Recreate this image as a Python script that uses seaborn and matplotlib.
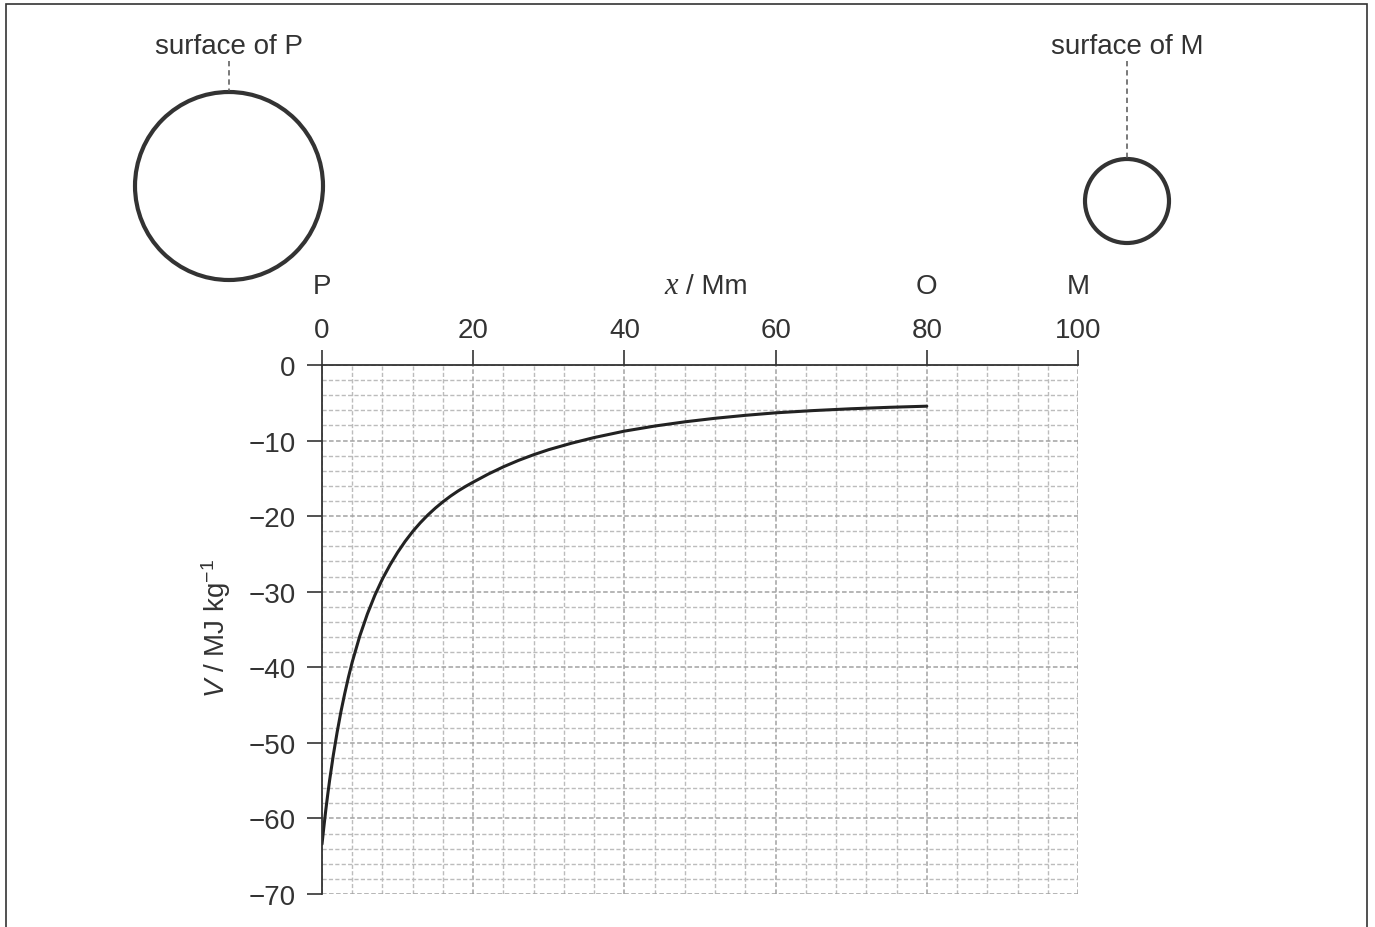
import matplotlib
matplotlib.use("Agg")
import matplotlib.pyplot as plt
import matplotlib.transforms as mtransforms
from matplotlib.patches import Circle
from matplotlib.ticker import MultipleLocator
import pandas as pd
import seaborn as sns

# Gravitational potential V along the line from the surface of P towards M
distance_mm = [0, 0.25, 0.5, 0.75, 1, 1.5, 2, 2.5, 3, 3.5, 4, 5, 6, 7, 8, 9,
               10, 11, 12, 13, 14, 15, 16, 17, 18, 19, 20, 22, 24, 26, 28, 30,
               33, 36, 40, 44, 48, 52, 56, 60, 65, 70, 75, 80]
potential = [-63.4, -61.1, -58.9, -56.9, -55.0, -51.6, -48.6, -45.9, -43.5,
             -41.3, -39.3, -35.85, -32.95, -30.45, -28.3, -26.45, -24.8,
             -23.33, -22.03, -20.88, -19.85, -18.93, -18.1, -17.35, -16.67,
             -16.06, -15.5, -14.43, -13.47, -12.62, -11.87, -11.2, -10.35,
             -9.6, -8.75, -8.08, -7.52, -7.05, -6.66, -6.33, -6.03, -5.79,
             -5.6, -5.45]

x_ticks = [0, 20, 40, 60, 80, 100]
y_ticks = [0, -10, -20, -30, -40, -50, -60, -70]
point_labels = ["P", "O", "M"]
point_positions = [0, 80, 100]

INK = "#333333"
W, H = 1375, 928

sns.set_theme(style="white")
plt.rcParams["font.family"] = ["Liberation Sans", "DejaVu Sans"]
plt.rcParams["mathtext.fontset"] = "custom"
plt.rcParams["mathtext.rm"] = "Liberation Sans"
plt.rcParams["mathtext.it"] = "Liberation Sans:italic"

fig = plt.figure(figsize=(W / 100, H / 100), dpi=100)

# Pixel-space overlay for the frame and the two bodies
ov = fig.add_axes([0, 0, 1, 1], zorder=0)
ov.set_xlim(0, W)
ov.set_ylim(H, 0)
ov.axis("off")
ov.plot([6, 6, 1367, 1367], [H + 5, 5, 5, H + 5], color=INK, lw=1.2,
        solid_joinstyle="miter")
ov.add_patch(Circle((229, 187), 94, fill=False, ec=INK, lw=3.0))
ov.add_patch(Circle((1127, 202), 42, fill=False, ec=INK, lw=3.0))
ov.plot([229, 229], [62, 92], color="#555555", lw=1.1, ls=(0, (3.5, 2.5)))
ov.plot([1127, 1127], [62, 159], color="#555555", lw=1.1, ls=(0, (3.5, 2.5)))
ov.text(229, 47, "surface of P", ha="center", va="center", fontsize=20, color=INK)
ov.text(1127, 47, "surface of M", ha="center", va="center", fontsize=20, color=INK)

# Main graph
ax = fig.add_axes([322 / W, 1 - 895 / H, 756 / W, 529 / H], zorder=2)
ax.set_facecolor("none")
ax.set_xlim(0, 100)
ax.set_ylim(-70, 0)

ax.xaxis.set_minor_locator(MultipleLocator(4))
ax.yaxis.set_minor_locator(MultipleLocator(2))
ax.set_xticks(x_ticks)
ax.set_yticks(y_ticks)

ax.grid(which="minor", color="#bcbcbc", lw=1.0, ls=(0, (3, 1.6)))
ax.grid(which="major", color="#a2a2a2", lw=1.1, ls=(0, (3, 1.6)))
ax.set_axisbelow(True)

ax.xaxis.tick_top()
ax.tick_params(axis="x", which="major", direction="out", length=11, width=1.2,
               pad=5, labelsize=20, colors=INK, top=True, bottom=False)
ax.tick_params(axis="y", which="major", direction="out", length=11, width=1.2,
               pad=8, labelsize=20, colors=INK, left=True)
ax.tick_params(which="minor", length=0)

for side in ["right", "bottom"]:
    ax.spines[side].set_visible(False)
for side in ["left", "top"]:
    ax.spines[side].set_color(INK)
    ax.spines[side].set_linewidth(1.3)

curve = pd.DataFrame({"x": distance_mm, "V": potential})
sns.lineplot(data=curve, x="x", y="V", ax=ax, color="#222222", lw=2.2,
             sort=False, estimator=None)
ax.set_xlabel("")
ax.set_ylabel("")

top = mtransforms.blended_transform_factory(ax.transData, ax.transAxes)
label_y = 1 + 79 / 529
for name, pos in zip(point_labels, point_positions):
    ax.text(pos, label_y, name, transform=top, ha="center", va="center",
            fontsize=20, color=INK, clip_on=False)
ax.text(46.2, label_y, "x", transform=top, ha="center", va="center",
        fontsize=22, color=INK, family="Liberation Serif", style="italic",
        clip_on=False)
ax.text(48.1, label_y, "/ Mm", transform=top, ha="left", va="center",
        fontsize=20, color=INK, clip_on=False)

fig.text(216 / W, 1 - 628 / H, r"$V$ / MJ kg$^{-1}$", rotation=90,
         ha="center", va="center", fontsize=20, color=INK)

fig.savefig("out.png", dpi=100)
